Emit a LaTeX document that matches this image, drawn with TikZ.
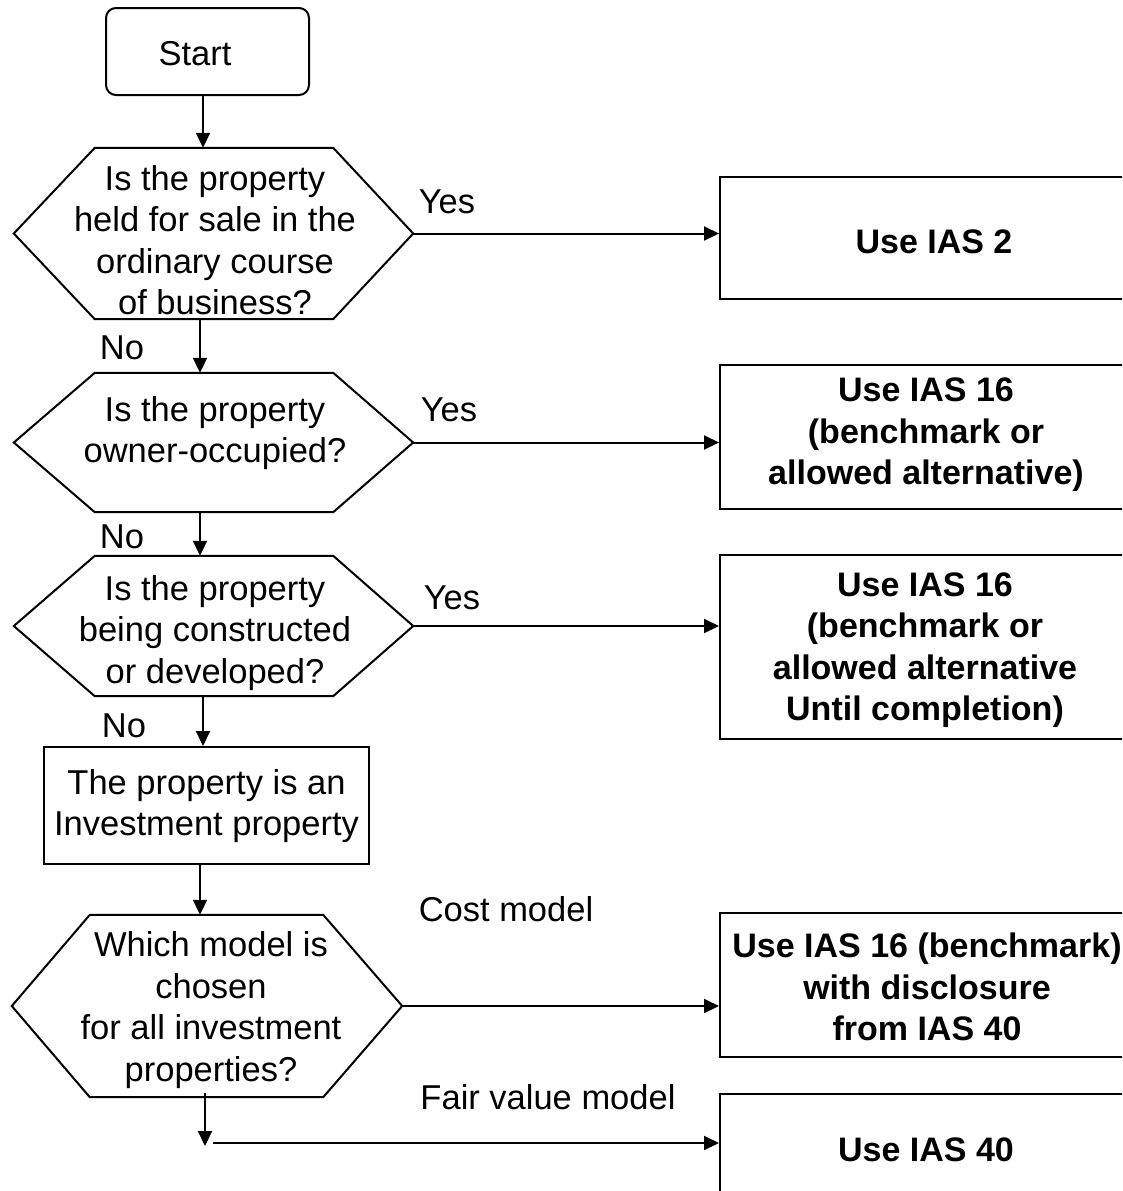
\documentclass[tikz,border=0pt]{standalone}
\usepackage{fontspec}
\setmainfont{Liberation Sans}
\usetikzlibrary{arrows.meta,calc}
\newcommand\fsz{\fontsize{34.5}{41.5}\selectfont}
\newcommand\bfsz{\fontsize{34}{41.5}\selectfont}
\newcommand\hexoutline[3]{%
  \draw[lineb] (#1.west) -- ([xshift=#2]#1.north west) -- ([xshift=-#3]#1.north east) -- (#1.east)
    -- ([xshift=-#3]#1.south east) -- ([xshift=#2]#1.south west) -- cycle;}
\begin{document}
\begin{tikzpicture}[x=1pt,y=-1pt,
  lineb/.style={line width=2pt, line join=miter},
  shapebox/.style={draw, line width=2pt, inner sep=0pt, minimum width=#1},
  hexarea/.style={inner sep=0pt, minimum width=#1},
  txt/.style={font=\fsz, align=center, inner sep=0pt},
  btxt/.style={font=\bfsz\bfseries, align=center, inner sep=0pt},
  arr/.style={line width=2pt, -{Triangle[length=15pt,width=14pt]}}]
\useasboundingbox (0,0) rectangle (1122,1191);
\clip (0,0) rectangle (1122,1191);

% Start
\node[shapebox=203pt, minimum height=87pt, rounded corners=10pt] (start) at (207.5,51.5) {};
\node[txt] (startt) at (195,54) {Start};

% hexagons
\node[hexarea=399pt, minimum height=171pt] (h1) at (213.5,233.5) {};
\hexoutline{h1}{81pt}{80pt}
\node[txt] (h1t) at (215,240) {Is the property\\held for sale in the\\ordinary course\\of business?};

\node[hexarea=399pt, minimum height=139pt] (h2) at (213.5,442.5) {};
\hexoutline{h2}{81pt}{80pt}
\node[txt] (h2t) at (215,433) {Is the property\\owner-occupied?};

\node[hexarea=399pt, minimum height=140pt] (h3) at (213.5,626) {};
\hexoutline{h3}{81pt}{80pt}
\node[txt] (h3t) at (215,633) {Is the property\\being constructed\\or developed?};

\node[shapebox=325pt, minimum height=117pt] (inv) at (206.5,805.5) {};
\node[txt] (invt) at (206.5,806) {The property is an\\Investment property};

\node[hexarea=390pt, minimum height=182pt] (h4) at (207,1006) {};
\hexoutline{h4}{78pt}{79pt}
\node[txt] (h4t) at (211,1010) {Which model is\\chosen\\for all investment\\properties?};

% right boxes
\node[shapebox=415pt, minimum height=122pt] (b1) at (927.5,238) {};
\node[btxt] (b1t) at (934,242) {Use IAS 2};
\node[shapebox=415pt, minimum height=144pt] (b2) at (927.5,437) {};
\node[btxt] (b2t) at (926,435) {Use IAS 16\\(benchmark or\\allowed alternative)};
\node[shapebox=415pt, minimum height=184pt] (b3) at (927.5,647) {};
\node[btxt] (b3t) at (925,650) {Use IAS 16\\(benchmark or\\allowed alternative\\Until completion)};
\node[shapebox=415pt, minimum height=144pt] (b4) at (927.5,985) {};
\node[btxt] (b4t) at (927,987) {Use IAS 16 (benchmark)\\with disclosure\\from IAS 40};
\node[shapebox=415pt, minimum height=116pt] (b5) at (927.5,1152) {};
\node[btxt] (b5t) at (926,1150) {Use IAS 40};

% labels
\node[txt] (y1) at (447,202) {Yes};
\node[txt] (y2) at (449,410) {Yes};
\node[txt] (y3) at (452,598) {Yes};
\node[txt] (n1) at (122,348) {No};
\node[txt] (n2) at (122,537) {No};
\node[txt] (n3) at (124,726) {No};
\node[txt] (cm) at (506,909) {Cost model};
\node[txt] (fv) at (548,1097) {Fair value model};

% vertical connectors
\draw[arr] ([xshift=-4.5pt]start.south) -- ([xshift=-4.5pt]start.south |- h1.north);
\draw[arr] ([xshift=-13.5pt]h1.south) -- ([xshift=-13.5pt]h1.south |- h2.north);
\draw[arr] ([xshift=-13.5pt]h2.south) -- ([xshift=-13.5pt]h2.south |- h3.north);
\draw[arr] ([xshift=-10.5pt]h3.south) -- ([xshift=-10.5pt]h3.south |- inv.north);
\draw[arr] ([xshift=-6.5pt]inv.south) -- ([xshift=-6.5pt]inv.south |- h4.north);
\coordinate (fvtip) at (205,1146);
\coordinate (fvstart) at (213,1143);
\draw[arr] ([xshift=-2pt,yshift=4pt]h4.south) -- (fvtip);

% horizontal connectors
\draw[arr] (h1.east) -- (h1.east -| b1.west);
\draw[arr] (h2.east) -- (h2.east -| b2.west);
\draw[arr] (h3.east) -- (h3.east -| b3.west);
\draw[arr] (h4.east) -- (h4.east -| b4.west);
\draw[arr] (fvstart) -- (fvstart -| b5.west);
\end{tikzpicture}
\end{document}
